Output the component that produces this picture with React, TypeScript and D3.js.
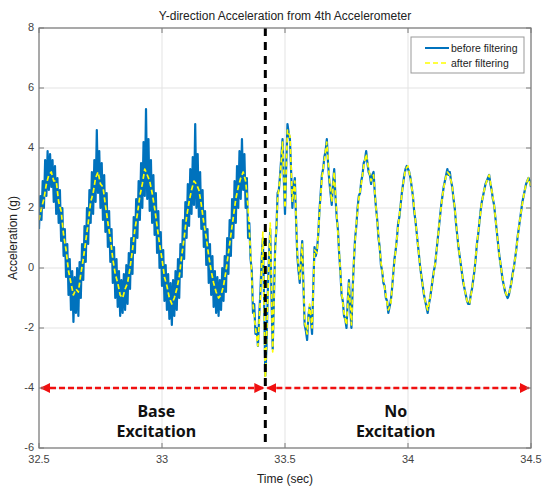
import React from "react";
import * as d3 from "d3";

// ---- data ----
const T0 = 32.5;
const STEP_RAW = 0.005; // before filtering sample step (s)
const STEP_FILT = 0.01; // after filtering sample step (s)

const beforeFiltering: number[] = [
  1.3, 2.4, 1.6, 2.9, 2.0, 3.6, 2.4, 3.9, 2.6, 3.8, 2.7, 3.6, 2.2, 3.4, 1.8, 3.0, 1.5, 2.6, 0.9, 2.0,
  0.4, 1.3, -0.3, 0.8, -0.9, 0.3, -1.4, -0.1, -1.8, -0.3, -1.5, 0.0, -1.6, 0.2, -1.0, 0.8, -0.4, 1.4, 0.2, 2.0,
  0.8, 2.6, 1.5, 3.2, 1.8, 3.6, 2.2, 4.6, 2.5, 3.9, 2.0, 3.5, 1.6, 3.1, 1.2, 2.5, 0.7, 1.9, 0.2, 1.3,
  -0.5, 0.7, -1.0, 0.3, -1.3, -0.1, -1.6, -0.4, -1.5, -0.2, -1.4, 0.1, -1.2, 0.5, -0.7, 1.0, -0.2, 1.7, 0.5, 2.3,
  1.0, 2.9, 1.6, 3.5, 2.0, 4.2, 2.4, 5.3, 2.3, 4.3, 1.9, 3.6, 1.5, 3.1, 1.1, 2.5, 0.5, 1.9, 0.0, 1.2,
  -0.6, 0.6, -1.1, 0.1, -1.4, -0.2, -1.7, -0.5, -1.9, -0.4, -1.6, -0.1, -1.4, 0.3, -1.0, 0.8, -0.3, 1.6, 0.3, 2.2,
  1.0, 2.8, 1.4, 3.3, 1.8, 3.7, 2.1, 4.8, 2.0, 3.8, 1.7, 3.2, 1.3, 2.6, 0.7, 1.9, 0.1, 1.3, -0.5, 0.8,
  -0.9, 0.4, -1.3, -0.1, -1.5, -0.3, -1.6, -0.4, -1.4, 0.0, -1.1, 0.4, -0.8, 1.0, -0.2, 1.6, 0.4, 2.3, 1.0, 2.9,
  1.5, 3.4, 2.0, 3.9, 2.3, 4.3, 2.6, 3.8, 2.0, 3.0, 1.0, 1.5, 0.3, -0.1, -1.5, -1.2, -2.2, -2.0, -2.6, -1.6,
  -0.8, 0.3, 1.0, -1.0, -3.6, -2.6, -0.8, 0.4, 1.3, -0.9, -2.7, -1.0, 0.7, 1.3, 2.5, 2.6, 3.1, 3.7, 4.3, 3.0,
  1.8, 3.4, 4.8, 4.5, 4.3, 3.2, 2.0, 2.7, 3.0, 1.6, 0.4, -0.1, -0.5, 0.3, 0.9, -0.6, -1.9, -2.1, -2.4, -1.6,
  -1.3, -1.7, -2.2, -0.6, 0.7, 0.4, 0.6, 1.1, 1.9, 2.5, 3.1, 3.3, 3.7, 3.9, 4.3, 3.5, 2.9, 2.5, 2.1, 2.8,
  3.3, 2.4, 1.7, 1.3, 0.5, -0.1, -0.9, -1.1, -1.6, -1.7, -2.0, -1.1, -0.4, -1.3, -2.0, -0.7, 0.2, 1.0, 1.4, 2.0,
  2.4, 2.5, 2.9, 3.1, 3.5, 3.6, 3.9, 3.5, 3.2, 3.1, 2.8, 3.1, 3.2, 2.5, 2.0, 1.6, 1.0, 0.7, 0.1, -0.1,
  -0.5, -0.6, -1.0, -1.1, -1.5, -1.3, -1.1, -0.7, -0.2, 0.3, 0.6, 1.0, 1.5, 1.7, 2.1, 2.5, 2.8, 3.1, 3.3, 3.4,
  3.3, 3.2, 3.0, 2.7, 2.4, 1.9, 1.6, 1.2, 0.8, 0.4, 0.0, -0.3, -0.6, -0.9, -1.1, -1.3, -1.5, -1.2, -1.0, -0.7,
  -0.4, -0.1, 0.1, 0.5, 0.9, 1.3, 1.7, 2.1, 2.4, 2.7, 2.9, 3.1, 3.3, 3.1, 3.2, 2.9, 2.7, 2.3, 2.0, 1.5,
  1.1, 0.7, 0.4, 0.1, -0.2, -0.5, -0.7, -0.9, -1.1, -1.2, -1.2, -0.9, -0.7, -0.4, -0.1, 0.3, 0.8, 1.1, 1.5, 1.9,
  2.2, 2.4, 2.6, 2.8, 2.9, 3.0, 3.1, 2.8, 2.6, 2.3, 2.1, 1.7, 1.3, 0.9, 0.5, 0.2, -0.1, -0.4, -0.6, -0.8,
  -0.9, -1.0, -0.9, -0.7, -0.5, -0.2, 0.0, 0.3, 0.6, 1.0, 1.3, 1.6, 1.9, 2.2, 2.4, 2.6, 2.8, 2.9, 3.0, 2.9,
  2.7,
];

const afterFiltering: number[] = [
  1.6, 2.0, 2.3, 2.8, 3.1, 3.2, 2.9, 2.9, 2.2, 1.9, 1.1, 0.6, -0.1, -0.5, -0.9, -0.7, -0.8, -0.2, 0.3, 0.9,
  1.5, 2.2, 2.5, 3.0, 3.2, 2.8, 2.7, 2.1, 1.5, 1.0, 0.3, -0.2, -0.5, -0.9, -1.0, -0.7, -0.5, 0.0, 0.6, 1.3,
  1.8, 2.4, 2.8, 3.3, 3.1, 2.9, 2.5, 2.0, 1.4, 0.8, 0.3, -0.3, -0.6, -1.0, -1.2, -1.0, -0.7, -0.3, 0.4, 1.0,
  1.7, 2.2, 2.6, 2.9, 2.8, 2.6, 2.1, 1.5, 1.0, 0.4, -0.1, -0.5, -0.8, -1.0, -0.9, -0.6, -0.1, 0.5, 1.1, 1.7,
  2.3, 2.7, 3.0, 3.2, 2.9, 2.0, 0.5, -1.2, -2.0, -2.6, -1.0, 1.2, -3.8, -1.0, 1.5, -2.8, 0.5, 2.3, 3.0, 4.2,
  2.0, 4.6, 4.4, 2.2, 2.9, 0.5, -0.4, 0.8, -1.8, -2.2, -1.2, -2.0, 0.6, 0.5, 1.8, 3.0, 3.6, 4.2, 3.0, 2.2,
  3.2, 1.8, 0.6, -0.8, -1.5, -1.9, -0.5, -1.9, 0.3, 1.5, 2.3, 2.8, 3.4, 3.8, 3.3, 2.9, 3.1, 2.0, 1.1, 0.2,
  -0.4, -0.9, -1.4, -1.2, -0.2, 0.6, 1.4, 2.1, 2.8, 3.3, 3.4, 3.0, 2.4, 1.6, 0.8, 0.0, -0.6, -1.1, -1.4, -1.0,
  -0.4, 0.1, 0.9, 1.7, 2.4, 2.9, 3.2, 3.1, 2.7, 2.0, 1.1, 0.4, -0.2, -0.7, -1.1, -1.2, -0.7, -0.1, 0.8, 1.5,
  2.2, 2.6, 2.9, 3.1, 2.6, 2.1, 1.3, 0.5, -0.1, -0.6, -0.9, -0.9, -0.5, 0.0, 0.6, 1.3, 1.9, 2.4, 2.8, 3.0,
  2.7,
];

const xTicks = [32.5, 33, 33.5, 34, 34.5];
const xTickLabels = ["32.5", "33", "33.5", "34", "34.5"];
const yTicks = [8, 6, 4, 2, 0, -2, -4, -6];
const yTickLabels = ["8", "6", "4", "2", "0", "-2", "-4", "-6"];

const titleText = "Y-direction Acceleration from 4th Accelerometer";
const xLabel = "Time (sec)";
const yLabel = "Acceleration (g)";
const legendLabels = ["before filtering", "after filtering"];
const boundaryTime = 33.42;
const arrowLevel = -4;
const regionLabels = [
  { t: 32.977, lines: ["Base", "Excitation"] },
  { t: 33.95, lines: ["No", "Excitation"] },
];

// ---- layout ----
const W = 544;
const H = 487;
const M = { left: 39, right: 531, top: 28, bottom: 448 };
const BLUE = "#0072BD";
const YELLOW = "#FFFF00";
const FONT = "'Liberation Sans', Arial, sans-serif";

export default function App() {
  const x = d3.scaleLinear().domain([32.5, 34.5]).range([M.left, M.right]);
  const y = d3.scaleLinear().domain([-6, 8]).range([M.bottom, M.top]);

  const lineRaw = d3
    .line<number>()
    .x((_, i) => x(T0 + i * STEP_RAW))
    .y((v) => y(v));
  const lineFilt = d3
    .line<number>()
    .x((_, i) => x(T0 + i * STEP_FILT))
    .y((v) => y(v));

  const xb = x(boundaryTime);
  const ya = y(arrowLevel);

  return (
    <svg
      width={W}
      height={H}
      style={{ position: "absolute", left: 0, top: 0, background: "#fff" }}
      fontFamily={FONT}
    >
      <defs>
        <clipPath id="plotClip">
          <rect x={M.left} y={M.top} width={M.right - M.left} height={M.bottom - M.top} />
        </clipPath>
        <marker
          id="arrowHead"
          viewBox="0 0 10 10"
          refX="9"
          refY="5"
          markerWidth="4"
          markerHeight="4"
          orient="auto-start-reverse"
          markerUnits="strokeWidth"
        >
          <path d="M0,0 L10,5 L0,10 z" fill="#F01010" />
        </marker>
      </defs>
      <rect x={0} y={0} width={W} height={H} fill="#fff" />
      <rect x={M.left} y={M.top} width={M.right - M.left} height={M.bottom - M.top} fill="#fff" />

      {/* grid */}
      {xTicks.map((t) => (
        <line key={"gx" + t} x1={x(t)} x2={x(t)} y1={M.top} y2={M.bottom} stroke="#e3e3e3" strokeWidth={1} />
      ))}
      {yTicks.map((t) => (
        <line key={"gy" + t} x1={M.left} x2={M.right} y1={y(t)} y2={y(t)} stroke="#e3e3e3" strokeWidth={1} />
      ))}

      {/* data */}
      <g clipPath="url(#plotClip)">
        <path d={lineRaw(beforeFiltering) || ""} fill="none" stroke={BLUE} strokeWidth={2.2} strokeLinejoin="round" />
        <path
          d={lineFilt(afterFiltering) || ""}
          fill="none"
          stroke={YELLOW}
          strokeWidth={1.7}
          strokeDasharray="5,3"
          strokeLinejoin="round"
        />
      </g>

      {/* boundary line */}
      <line x1={xb} x2={xb} y1={M.top} y2={M.bottom} stroke="#000" strokeWidth={3} strokeDasharray="8,6" />

      {/* arrows */}
      <line
        x1={M.left + 2}
        x2={xb - 2}
        y1={ya}
        y2={ya}
        stroke="#F01010"
        strokeWidth={2.5}
        strokeDasharray="6,3"
        markerStart="url(#arrowHead)"
        markerEnd="url(#arrowHead)"
      />
      <line
        x1={xb + 2}
        x2={M.right - 2}
        y1={ya}
        y2={ya}
        stroke="#F01010"
        strokeWidth={2.5}
        strokeDasharray="6,3"
        markerStart="url(#arrowHead)"
        markerEnd="url(#arrowHead)"
      />

      {/* region labels */}
      {regionLabels.map((r) => (
        <text
          key={r.lines.join("")}
          x={x(r.t)}
          textAnchor="middle"
          fontFamily="'Noto Sans', 'Open Sans', sans-serif"
          fontWeight="bold"
          fontSize={16}
          fill="#111"
        >
          <tspan x={x(r.t)} y={417}>{r.lines[0]}</tspan>
          <tspan x={x(r.t)} y={437}>{r.lines[1]}</tspan>
        </text>
      ))}

      {/* axes box + ticks */}
      <rect
        x={M.left}
        y={M.top}
        width={M.right - M.left}
        height={M.bottom - M.top}
        fill="none"
        stroke="#7a7a7a"
        strokeWidth={1.2}
      />
      {xTicks.map((t) => (
        <g key={"tx" + t}>
          <line x1={x(t)} x2={x(t)} y1={M.bottom} y2={M.bottom - 5} stroke="#7a7a7a" />
          <line x1={x(t)} x2={x(t)} y1={M.top} y2={M.top + 5} stroke="#7a7a7a" />
        </g>
      ))}
      {yTicks.map((t) => (
        <g key={"ty" + t}>
          <line x1={M.left} x2={M.left + 5} y1={y(t)} y2={y(t)} stroke="#7a7a7a" />
          <line x1={M.right} x2={M.right - 5} y1={y(t)} y2={y(t)} stroke="#7a7a7a" />
        </g>
      ))}

      {/* tick labels */}
      {xTicks.map((t, i) => (
        <text key={"lx" + t} x={x(t)} y={463} textAnchor="middle" fontSize={11} fill="#444">
          {xTickLabels[i]}
        </text>
      ))}
      {yTicks.map((t, i) => (
        <text key={"ly" + t} x={34} y={y(t) + 3} textAnchor="end" fontSize={11} fill="#444">
          {yTickLabels[i]}
        </text>
      ))}

      {/* titles */}
      <text x={(M.left + M.right) / 2} y={20} textAnchor="middle" fontSize={12} fill="#222">
        {titleText}
      </text>
      <text x={(M.left + M.right) / 2} y={483} textAnchor="middle" fontSize={12} fill="#222">
        {xLabel}
      </text>
      <text
        transform={`translate(17, ${(M.top + M.bottom) / 2}) rotate(-90)`}
        textAnchor="middle"
        fontSize={12}
        fill="#222"
      >
        {yLabel}
      </text>

      {/* legend */}
      <g>
        <rect x={411} y={37} width={113} height={36} fill="#fff" stroke="#999" strokeWidth={1} />
        <line x1={425} x2={449} y1={48} y2={48} stroke={BLUE} strokeWidth={2} />
        <line x1={425} x2={449} y1={63} y2={63} stroke={YELLOW} strokeWidth={1.7} strokeDasharray="5,3" />
        <text x={451} y={51.5} fontSize={10.5} fill="#222">
          {legendLabels[0]}
        </text>
        <text x={451} y={66.5} fontSize={10.5} fill="#222">
          {legendLabels[1]}
        </text>
      </g>
    </svg>
  );
}
